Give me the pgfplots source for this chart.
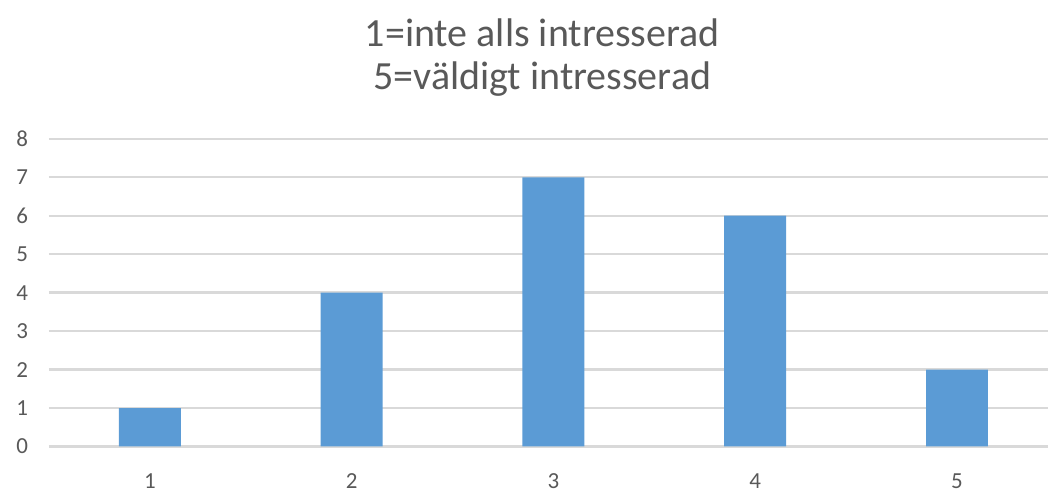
\documentclass[border=0pt]{standalone}
\usepackage{pgfplots}
\pgfplotsset{compat=1.18}
\usetikzlibrary{calc}
\usepackage{fontspec}
\setmainfont{Carlito}
\definecolor{txtc}{HTML}{595959}
\definecolor{gridc}{HTML}{D9D9D9}
\definecolor{barc}{HTML}{5B9BD5}
\begin{document}
\begin{tikzpicture}
\begin{axis}[
  name=ax,
  scale only axis,
  width=500pt, height=154pt,
  xmin=0.5, xmax=5.45,
  ymin=0, ymax=8,
  ytick={0,...,8},
  xtick={1,2,3,4,5},
  axis line style={draw=none},
  tick style={draw=none},
  ymajorgrids=true,
  xmajorgrids=false,
  major grid style={draw=gridc, line width=1.2pt},
  ybar, bar width=31pt,
  ticklabel style={font=\fontsize{11.5}{12}\selectfont, text=txtc},
  /pgf/number format/assume math mode=true,
  yticklabel style={xshift=-7pt},
  xticklabel style={yshift=-6pt},
  clip=false,
]
\addplot[fill=barc, draw=none] coordinates {(1,1) (2,4) (3,7) (4,6) (5,2)};
\end{axis}
\node[text=txtc, font=\fontsize{20}{21.5}\selectfont, align=center, anchor=center] at ($(ax.south west)+(247pt,194.5pt)$) {1=inte alls intresserad\\5=väldigt intresserad};
\path ($(ax.south west)+(-24.5pt,-21pt)$) rectangle ($(ax.north east)+(0pt,69.5pt)$);
\end{tikzpicture}
\end{document}
